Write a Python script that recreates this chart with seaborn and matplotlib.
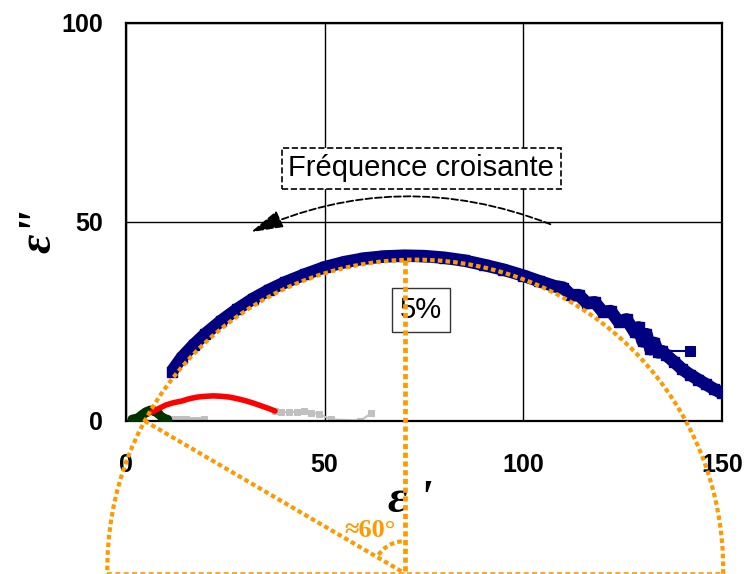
import matplotlib
matplotlib.use("Agg")
import matplotlib.pyplot as plt
from matplotlib.patches import Arc
import seaborn as sns

# Data
blue_x = [11.5, 14, 17, 20, 24, 28, 32, 36, 40, 45, 50, 55, 60, 65, 70, 75, 80, 85,
          90, 95, 100, 104, 108, 110, 112, 114, 116, 118, 120, 122, 124, 126, 128,
          129, 130, 131, 132, 133, 134, 135, 136, 138, 140, 142, 144, 146, 148, 150]
blue_y = [12.4, 15.9, 19.1, 21.9, 25.2, 28.1, 30.7, 32.9, 34.8, 36.8, 38.6, 39.9,
          40.8, 41.3, 41.5, 41.4, 41.0, 40.3, 39.2, 38.0, 36.5, 35.1, 33.8, 33.5,
          31.6, 31.6, 29.6, 29.8, 27.4, 27.6, 24.9, 25.5, 22.3, 23.5, 20.0, 21.8,
          18.0, 19.6, 17.2, 17.5, 16.5, 14.8, 13.0, 11.6, 10.4, 9.2, 8.0, 7.0]
blue_stray_x = [135, 142]
blue_stray_y = [17.6, 17.6]

red_x = [6.5, 8, 10, 12, 14, 16, 18, 20, 22, 24, 26, 28, 30, 32, 34, 36, 37.5]
red_y = [2.2, 3.0, 4.0, 4.6, 5.0, 5.6, 6.0, 6.2, 6.3, 6.2, 6.0, 5.6, 5.1, 4.5, 3.8, 3.1, 2.5]

green_x = [1.5, 3, 4, 5, 6, 7, 8, 9, 10.2]
green_y = [0.4, 0.8, 1.6, 2.3, 2.7, 2.6, 1.9, 1.0, 0.4]

gray1_x = [10.2, 12, 13.5, 15, 16.5, 18, 19.6]
gray1_y = [0.6, 0.5, 0.4, 0.4, 0.3, 0.3, 0.5]
gray2_x = [37.5, 39, 41, 43, 44.7, 46.5, 48.5, 51.5, 59, 61.7]
gray2_y = [2.5, 2.2, 2.2, 2.3, 2.4, 2.0, 1.8, 0.4, 0.1, 1.9]

xticks = [0, 50, 100, 150]
yticks = [0, 50, 100]

orange = "#FF9900"
navy = "#000080"

sns.set_style("white")
plt.rcParams["font.family"] = ["Liberation Sans", "DejaVu Sans"]
plt.rcParams["text.color"] = "black"
plt.rcParams["xtick.color"] = "black"
plt.rcParams["ytick.color"] = "black"

fig = plt.figure(figsize=(7.47, 5.74), dpi=100)
ax = fig.add_axes([0.1687, 0.2666, 0.7978, 0.6939])

# Data series
sns.lineplot(x=green_x, y=green_y, sort=False, estimator=None, color="#003300",
             linewidth=6.5, marker="o", markersize=6, mec="#003300", ax=ax, zorder=3)
sns.lineplot(x=gray1_x, y=gray1_y, sort=False, estimator=None, color="#C0C0C0",
             linewidth=2, marker="s", markersize=5, mec="#C0C0C0", ax=ax, zorder=2)
sns.lineplot(x=gray2_x, y=gray2_y, sort=False, estimator=None, color="#C0C0C0",
             linewidth=1.5, marker="s", markersize=5, mec="#C0C0C0", ax=ax, zorder=2)
sns.lineplot(x=red_x, y=red_y, sort=False, estimator=None, color="#FF0000",
             linewidth=4, ax=ax, zorder=3)
sns.lineplot(x=blue_stray_x, y=blue_stray_y, sort=False, estimator=None, color=navy,
             linewidth=1.5, marker="s", markersize=7, mec=navy, ax=ax, zorder=3)
ax.plot(blue_x, blue_y, color=navy, lw=9, marker="s", markersize=7, mec=navy,
        solid_capstyle="butt", zorder=4)

ax.set_xlim(0, 150)
ax.set_ylim(0, 100)
ax.set_xticks(xticks)
ax.set_yticks(yticks)
ax.set_xlabel("")
ax.set_ylabel("")
ax.tick_params(length=0, labelsize=18, labelcolor="black")
ax.tick_params(axis="x", pad=23)
ax.tick_params(axis="y", pad=16.5)
for lab in ax.get_xticklabels() + ax.get_yticklabels():
    lab.set_fontweight("bold")
ax.grid(True, color="black", lw=1)
for sp in ax.spines.values():
    sp.set_color("black")
    sp.set_linewidth(1.6)
    sp.set_visible(True)

# axis labels
ax.text(71.6, -22.8, "\u03b5 '", ha="center", va="baseline", fontsize=34,
        family="Liberation Serif", weight="bold", style="italic", clip_on=False)
ax.text(-19.1, 48, "\u03b5\"", ha="center", va="baseline", rotation=90,
        rotation_mode="anchor", fontsize=34, family="Liberation Serif",
        weight="bold", style="italic", clip_on=False)

# annotations
ax.text(74.3, 63.4, "Fréquence croisante", ha="center", va="center", fontsize=21,
        color="black",
        bbox=dict(boxstyle="square,pad=0.22", fc="white", ec="black", ls="--", lw=1.2),
        zorder=5)
ax.annotate("", xy=(31.4, 47.4), xytext=(106.8, 49.4),
            arrowprops=dict(arrowstyle="-|>,head_length=2.0,head_width=0.55",
                            ls="--", lw=1.3, color="black", fc="black",
                            connectionstyle="arc3,rad=0.21", shrinkA=0, shrinkB=0),
            zorder=5)
ax.text(74.3, 27.9, "5%", ha="center", va="center", fontsize=21, color="black",
        bbox=dict(boxstyle="square,pad=0.28", fc="white", ec="#333333", lw=1),
        zorder=5)

# Cole-Cole construction (orange dotted)
dot = (0, (1.1, 0.75))
ax.add_patch(Arc((72.8, -37), 155, 155, theta1=-1, theta2=181, color=orange,
                 lw=3, ls=dot, clip_on=False, zorder=6))
ax.plot([70.1, 70.1], [40.5, -38.2], color=orange, lw=3.4, ls=dot,
        clip_on=False, zorder=6)
ax.plot([4.7, 70.1], [0, -38.2], color=orange, lw=3, ls=dot,
        clip_on=False, zorder=6)
ax.add_patch(Arc((70.1, -38.2), 16, 16, theta1=95, theta2=145, color=orange,
                 lw=3, ls=dot, clip_on=False, zorder=6))
ax.plot([-4.8, 150.8], [-38.2, -38.2], color=orange, lw=1.2, ls=(0, (3, 2)),
        clip_on=False, zorder=6)
ax.text(61.3, -29.1, "\u224860\u00b0", ha="center", va="baseline", fontsize=19,
        family="Liberation Serif", weight="bold", color=orange, clip_on=False,
        zorder=6)

fig.savefig("out.png", dpi=100)
